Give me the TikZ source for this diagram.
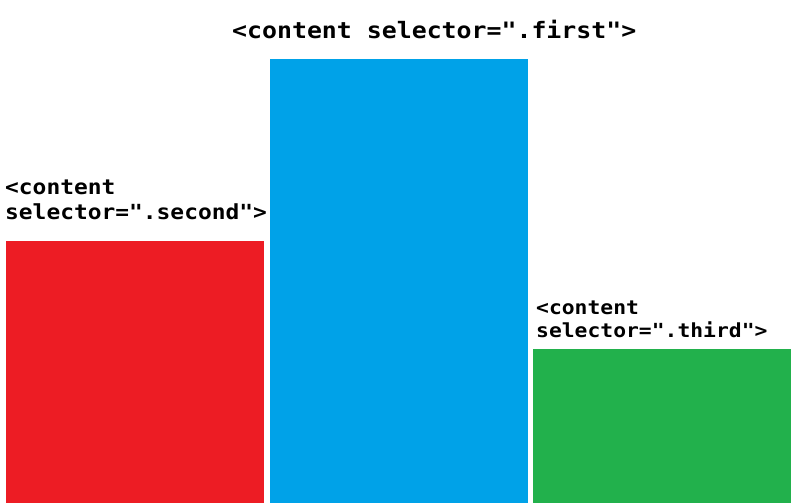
\documentclass[tikz,border=0pt]{standalone}
\usepackage{fontspec}
\newfontfamily\labelfont[FakeStretch=1.1]{DejaVu Sans Mono Bold}
\definecolor{barred}{HTML}{ED1C24}
\definecolor{barblue}{HTML}{00A2E8}
\definecolor{bargreen}{HTML}{22B14C}

\begin{document}
\begin{tikzpicture}[x=1pt, y=1pt,
  bar/.style={draw=none, inner sep=0pt, anchor=south west, minimum width=258pt},
  tag/.style={inner sep=0pt, anchor=base west, align=left}]

  \useasboundingbox (0,0) rectangle (796,503);

  % Bars
  \node[bar, fill=barred, minimum height=262pt] (second) at (6,0) {};
  \node[bar, fill=barblue, minimum height=444pt] (first) at (270,0) {};
  \node[bar, fill=bargreen, minimum height=154pt] (third) at (533,0) {};

  % Labels (base = last line)
  \node[tag, font=\labelfont\fontsize{22.6}{28}\selectfont] (firsttag) at (232,464)
    {<content selector=".first">};
  \node[tag, font=\labelfont\fontsize{20.8}{25.5}\selectfont] (secondtag) at (5,283)
    {<content\\selector=".second">};
  \node[tag, font=\labelfont\fontsize{19.4}{23}\selectfont] (thirdtag) at (536,165)
    {<content\\selector=".third">};

\end{tikzpicture}
\end{document}
